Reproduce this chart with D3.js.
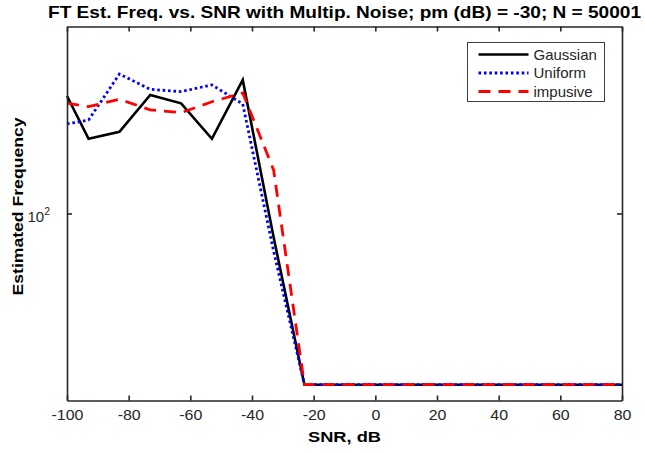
<!DOCTYPE html>
<html>
<head>
    <meta charset="utf-8">
    <title>FT Est. Freq. vs. SNR</title>
    <script src="https://cdn.jsdelivr.net/npm/d3@7"></script>
    <style>
        body { margin: 0; background: white; }
        text { font-family: "Liberation Sans", Arial, Helvetica, sans-serif; fill: #262626; }
        .bold { font-weight: bold; fill: #000; }
    </style>
</head>
<body>
<div id="chart"></div>
<script>
    // data
    const snr = [-100, -93, -83, -73, -63, -53, -43, -33, -23, -13, -3, 7, 17, 27, 37, 47, 57, 67, 77, 80];
    const gaussian  = [160.9, 135.3, 139.2, 161.6, 156.2, 135.3, 171.7, 90.9, 50, 50, 50, 50, 50, 50, 50, 50, 50, 50, 50, 50];
    const uniform   = [143.7, 146.0, 175.9, 165.3, 163.8, 168.3, 155.8, 85.9, 50, 50, 50, 50, 50, 50, 50, 50, 50, 50, 50, 50];
    const impulsive = [156.4, 154.1, 158.8, 152.1, 150.4, 157.2, 162.9, 119.3, 50, 50, 50, 50, 50, 50, 50, 50, 50, 50, 50, 50];
    const xTicks = [-100, -80, -60, -40, -20, 0, 20, 40, 60, 80];
    const yTicks = [100];
    const seriesNames = ["Gaussian", "Uniform", "impusive"];

    const W = 645, H = 453;
    const margin = {top: 26.5, right: 23, bottom: 52.5, left: 67};
    const width = W - margin.left - margin.right;
    const height = H - margin.top - margin.bottom;

    const svg = d3.select("#chart").append("svg")
        .attr("width", W)
        .attr("height", H);

    const g = svg.append("g")
        .attr("transform", `translate(${margin.left},${margin.top})`);

    const x = d3.scaleLinear().domain([-100, 80]).range([0, width]);
    const y = d3.scaleLog().domain([46.9, 213.2]).range([height, 0]);

    const series = [
        {name: seriesNames[0], values: gaussian, color: "#000000", dash: null, w: 2.6},
        {name: seriesNames[1], values: uniform, color: "#0000ff", dash: "2.6,2.8", w: 2.8},
        {name: seriesNames[2], values: impulsive, color: "#ff0000", dash: "12,8", w: 2.8}
    ];

    const line = d3.line()
        .x((d, i) => x(snr[i]))
        .y(d => y(d));

    g.selectAll(".series")
        .data(series)
        .join("path")
        .attr("class", "series")
        .attr("fill", "none")
        .attr("stroke", d => d.color)
        .attr("stroke-width", d => d.w)
        .attr("stroke-dasharray", d => d.dash)
        .attr("d", d => line(d.values));

    // axes, ticks pointing inward on all four sides (box on)
    const tickLen = 5;
    const bottomAxis = g.append("g")
        .attr("transform", `translate(0,${height})`)
        .call(d3.axisBottom(x).tickValues(xTicks).tickSizeInner(-tickLen).tickSizeOuter(0).tickPadding(10));
    const topAxis = g.append("g")
        .call(d3.axisTop(x).tickValues(xTicks).tickSizeInner(-tickLen).tickSizeOuter(0).tickFormat(""));
    const leftAxis = g.append("g")
        .call(d3.axisLeft(y).tickValues(yTicks).tickSizeInner(-tickLen).tickSizeOuter(0).tickFormat(""));
    const rightAxis = g.append("g")
        .attr("transform", `translate(${width},0)`)
        .call(d3.axisRight(y).tickValues(yTicks).tickSizeInner(-tickLen).tickSizeOuter(0).tickFormat(""));

    [bottomAxis, topAxis, leftAxis, rightAxis].forEach(a => {
        a.select(".domain").attr("stroke", "#262626").attr("stroke-width", 1.6);
        a.selectAll(".tick line").attr("stroke", "#262626").attr("stroke-width", 1.6);
    });
    bottomAxis.selectAll(".tick text")
        .style("font-size", "14px")
        .attr("fill", "#262626")
        .attr("transform", "scale(1.14,1)")
        .text(d => d);

    // 10^2 label
    yTicks.forEach(v => {
        const t = g.append("text")
            .attr("x", -17)
            .attr("y", y(v) + 9)
            .attr("text-anchor", "end")
            .style("font-size", "15px");
        t.append("tspan").text("10");
        t.append("tspan").attr("dy", -7).style("font-size", "10.5px").text(Math.round(Math.log10(v)));
    });

    // titles
    svg.append("text")
        .attr("class", "bold")
        .attr("x", margin.left + width / 2)
        .attr("y", 18)
        .attr("text-anchor", "middle")
        .attr("textLength", 593)
        .attr("lengthAdjust", "spacingAndGlyphs")
        .style("font-size", "17px")
        .text("FT Est. Freq. vs. SNR with Multip. Noise; pm (dB) = -30; N = 50001");

    svg.append("text")
        .attr("class", "bold")
        .attr("x", margin.left + width / 2)
        .attr("y", 442)
        .attr("text-anchor", "middle")
        .attr("textLength", 73)
        .attr("lengthAdjust", "spacingAndGlyphs")
        .style("font-size", "15px")
        .text("SNR, dB");

    svg.append("text")
        .attr("class", "bold")
        .attr("transform", `translate(23,${margin.top + height / 2 - 7}) rotate(-90)`)
        .attr("text-anchor", "middle")
        .attr("textLength", 178)
        .attr("lengthAdjust", "spacingAndGlyphs")
        .style("font-size", "15px")
        .text("Estimated Frequency");

    // legend
    const legend = svg.append("g").attr("transform", "translate(467.5,42.5)");
    legend.append("rect")
        .attr("width", 137)
        .attr("height", 59)
        .attr("fill", "white")
        .attr("stroke", "#404040")
        .attr("stroke-width", 1);
    series.forEach((s, i) => {
        const yy = 12 + i * 18.5;
        legend.append("line")
            .attr("x1", 11).attr("x2", 61)
            .attr("y1", yy).attr("y2", yy)
            .attr("stroke", s.color)
            .attr("stroke-width", s.w)
            .attr("stroke-dasharray", s.dash);
        legend.append("text")
            .attr("x", 66)
            .attr("y", yy + 5)
            .style("font-size", "15px")
            .attr("fill", "#000")
            .text(s.name);
    });
</script>
</body>
</html>
